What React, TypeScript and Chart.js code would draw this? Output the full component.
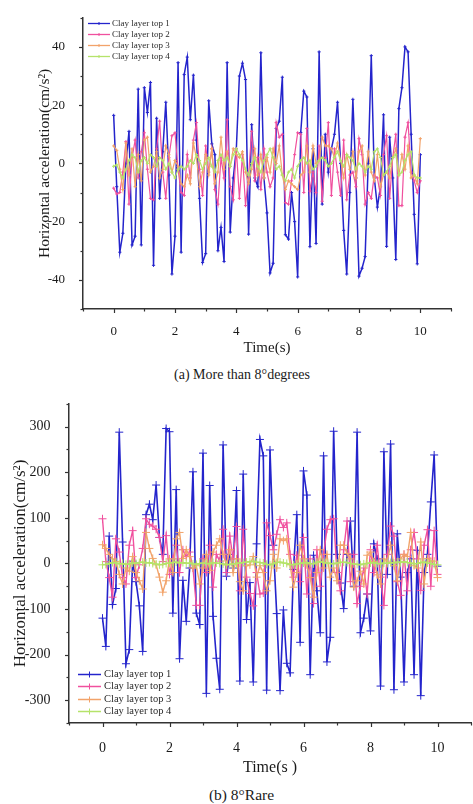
import React, { useEffect, useRef } from "react";
import { Chart, registerables } from "chart.js";

Chart.register(...registerables);

const FONT = "'Liberation Serif', 'Times New Roman', Times, serif";

// Sampling times (s): 0.0 … 10.0 every 0.1 s
const TIME: number[] = Array.from({ length: 101 }, (_, i) => i / 10);

const SERIES_NAMES = ["Clay layer top 1", "Clay layer top 2", "Clay layer top 3", "Clay layer top 4"];
const COLORS = ["#2424cc", "#f0509e", "#f2a36a", "#b5e36a"];

const X_TICK_LABELS = [0, 2, 4, 6, 8, 10];
const TOP_Y_TICK_LABELS = [-40, -20, 0, 20, 40];
const BOTTOM_Y_TICK_LABELS = [-300, -200, -100, 0, 100, 200, 300];

// (a) More than 8° degrees
const TOP_1 = [
  16.5, -8, -30.5, -24, 0, 11, -28, -25, 25.5, -28,
  26, 17.5, 27.8, -35, 15.5, -12, 4, 21, -4, -38,
  -25, 34.6, -30.5, 30.5, 36.5, 15, 30.3, 8, -12, -34,
  -31, 21.5, 6.7, 3, -30, -22, -33.7, 34.6, -23.6, -5,
  5, 30, 34.4, 28.8, -24.3, 13.3, -5, -8, 38, -5,
  -17, -37.6, -34.3, 12, 14.5, 29.6, -24.5, -26, -10, -20,
  -39, 10.6, 24.8, 22.8, -28.6, 5, -27.5, 38.3, -14, 10,
  -3, 5, 10, 21, 0, -23, -38, -10, 22, -5,
  -38.7, -36, -32, 0, 37, -5, -15, -8, 16.7, -28.5,
  9, -5, -33, 18.8, 26, 40, 38.3, 10, -17.5, -34.5,
  3,
];
const TOP_2 = [
  -8.5, -10.5, -10, -3, 7.5, -14, 2, 8, -5, 4,
  10.5, -2, -12, -12.5, 5, 14.5, -3, -12, 2, 9.5,
  10.5, -2, -10, -11, 3, -5, 8, 14, -2, -11,
  6, -3, 5, -9, -14, 2, -5, 15, -8, -12.5,
  5, -12, 3, -14.5, -4, 11, -6, 2, -9, 5,
  -3, -8, -5, 14, 9, 10, -13.5, -14, -6, 3,
  10.5, 10, -10, 12, -9.5, -3, -10, 6, -13, 2,
  14, -11, 5, -3, -11, 8, -12.5, -4, -3, -8,
  8.5, 3, -14, -10, -12, -4, -5, -11, 3, 9.5,
  -12, 2, 10, -14.5, -14.5, 9, 14, -3, -6, -10,
  -6,
];
const TOP_3 = [
  6, 4.5, -2, -9, 7, -4, 5, -8, 3, -6,
  8, 9, -3, -1, 4, -5, -2, 6, 3, -3,
  1, -1, -7, -8, -4, -7, 7, 2, -8, -3,
  3, -4, 5, -7, -3, 9, -2, 4, -1, 5,
  3, 2, 4, -3, -7, -2, 5, -4, 3, -5,
  2, -3, 5, 0, 6, -4, -9, -6, -7, -8,
  -9, -4, -3, 6, -3, 6, 0, 1, 9, 6,
  6, 5, 2, 7, 1, -5, 3, -2, 4, -5,
  4, 6, -4, 4, -3, -6, 3, -8, -4, -3,
  -5, 2, 5, -4, 3, -2, 6, -5, -4, -7,
  8.5,
];
const TOP_4 = [
  -1, -0.5, -3, -5, -2, 1, 3, 2, -3, 1,
  2, 0, 3, 2, -1, 2, 1, -2, 0, -3,
  -5, -2, -1, -2, -1, 1, 0, 3, 1, -2,
  0, 2, -1, -3, 1, 3, 1, 2, -1, 3,
  5, 3, 1, -2, -4, 0, 2, -1, -3, 1,
  3, 5, 2, -2, -1, -4, -6, -3, -2, -5,
  -1, 1, 2, 0, 1, -2, -1, 1, 2, 1,
  -1, 0, 2, 4, 1, -1, 3, 2, 1, -2,
  0, -1, -3, -1, -2, 4, 5, 2, -4, -3,
  -1, 2, 3, -4, -3, 1, 3, 4, -4, -5,
  -5,
];

// (b) 8° Rare
const BOTTOM_1 = [
  -120, -182, 60, -90, -55, 288, 47, -220, -189, 5,
  -40, -93, -193, 107, 130, 96, 172, 57, 20, 296,
  289, -109, 162, -209, -37, -127, -10, 201, -109, -134,
  242, -285, 171, -116, -208, -276, 260, -28, 20, -10,
  160, -258, 196, -123, -42, -260, 43, 272, 236, -278,
  249, 40, -110, -279, -102, -219, -240, -13, 107, -173,
  203, 150, -244, 18, -60, -152, 236, -216, -162, 290,
  20, -43, -99, 20, 93, -50, 288, -152, -120, -67,
  -148, 43, 10, -269, 245, -24, 262, -277, 65, -30,
  -260, -20, 10, -244, 29, -290, -20, 20, 135, 238,
  -6,
];
const BOTTOM_2 = [
  98, 4, -31, -74, 54, 25, -31, -45, 40, 72,
  -31, -3, 33, 98, 86, 82, 75, 57, 4, 61,
  -24, 10, 40, -20, 30, 15, 25, -10, -92, -92,
  10, -20, 40, -52, 20, 5, 75, -20, 60, 10,
  81, -60, 75, -30, -66, -93, -20, -67, -65, 89,
  61, 30, 64, 96, 79, 89, 20, -30, 18, -40,
  57, -67, 10, -88, 30, -50, 20, 75, 96, 98,
  -20, -60, 30, 93, -40, 20, -88, -50, -10, -67,
  30, -20, 40, -30, -92, 20, 82, 60, -40, -70,
  20, -60, 30, 68, 10, -59, 40, 74, -50, 72,
  -24,
];
const BOTTOM_3 = [
  41, 33, 20, 10, 4, -24, -45, -10, -17, 15,
  -20, -38, -56, 68, 33, 11, -3, -30, -63, -38,
  10, -20, 54, 68, 11, 30, 15, -10, -5, -45,
  -10, 20, -15, 25, 40, 54, 20, -3, 30, -20,
  10, -40, -60, -5, -3, 15, -30, -5, -20, -60,
  -38, 20, -10, 54, 50, 54, -3, -52, -20, 40,
  10, -3, -31, -74, -20, 30, -10, 20, -30, -10,
  -38, 40, 40, 22, 10, -52, -38, -17, -45, 18,
  25, 4, -25, -45, 10, 5, 40, -5, -38, 10,
  20, 15, 68, -5, -10, 47, -45, 11, 5, 5,
  -31,
];
const BOTTOM_4 = [
  -3, -2, 0, 2, 1, -1, 0, -2, -1, 1,
  0, 2, 3, 1, 2, 0, -1, -3, -2, 0,
  1, 2, 3, 1, 2, 0, 1, -1, -2, 0,
  1, 0, -1, 2, 1, 0, -1, -3, -2, -1,
  0, 1, 2, 3, 4, 5, 3, 2, 1, -2,
  -3, -1, 2, 3, 1, 0, -2, -3, -1, 0,
  1, 2, 0, -1, 3, 4, 2, 1, 0, -1,
  1, 2, 3, 2, 0, -1, -2, -3, -1, 0,
  1, 2, 0, -1, 1, 0, 2, 1, 3, 2,
  4, 2, 1, -1, 0, 2, 3, 1, 0, -2,
  -3,
];

const axisTicksPlugin = {
  id: "axisTicks",
  afterDraw(chart: any, _args: any, o: any) {
    const ctx = chart.ctx;
    const xs = chart.scales.x;
    const ys = chart.scales.y;
    ctx.save();
    ctx.strokeStyle = o.color;
    ctx.lineWidth = o.width;
    xs.ticks.forEach((t: any) => {
      const px = Math.round(xs.getPixelForValue(t.value)) + 0.5;
      const len = o.xMajor.includes(t.value) ? o.major : o.minor;
      ctx.beginPath();
      ctx.moveTo(px, xs.top);
      ctx.lineTo(px, xs.top + len);
      ctx.stroke();
    });
    ys.ticks.forEach((t: any) => {
      const py = Math.round(ys.getPixelForValue(t.value)) + 0.5;
      const len = o.yMajor.includes(t.value) ? o.major : o.minor;
      ctx.beginPath();
      ctx.moveTo(ys.right, py);
      ctx.lineTo(ys.right - len, py);
      ctx.stroke();
    });
    ctx.restore();
  },
};

const innerLegendPlugin = {
  id: "innerLegend",
  afterDraw(chart: any, _args: any, o: any) {
    const ctx = chart.ctx;
    ctx.save();
    ctx.font = `${o.fontSize}px ${FONT}`;
    ctx.textBaseline = "middle";
    chart.data.datasets.forEach((ds: any, k: number) => {
      const y = Math.round(o.y + k * o.gap) + 0.5;
      ctx.strokeStyle = ds.borderColor;
      ctx.lineWidth = o.lineWidth;
      ctx.beginPath();
      ctx.moveTo(o.x, y);
      ctx.lineTo(o.x + o.len, y);
      ctx.stroke();
      const mx = o.x + o.len / 2;
      ctx.lineWidth = 1;
      ctx.beginPath();
      ctx.moveTo(mx, y - o.mark);
      ctx.lineTo(mx, y + o.mark);
      ctx.stroke();
      ctx.fillStyle = "#2a2a2a";
      ctx.fillText(ds.label, o.x + o.len + o.textGap, y);
    });
    ctx.restore();
  },
};

type PanelSpec = {
  series: number[][];
  width: number;
  height: number;
  area: { left: number; right: number; top: number; bottom: number };
  yMin: number;
  yMax: number;
  yStep: number;
  yLabels: number[];
  tickFont: number;
  xTickPad: number;
  yTickPad: number;
  xTitle: string;
  xTitleFont: number;
  xTitlePad: number;
  yTitleFont: number;
  yTitlePad: number;
  lineWidths: number[];
  pointRadius: number;
  legend: any;
};

function buildConfig(p: PanelSpec): any {
  return {
    type: "line",
    data: {
      datasets: SERIES_NAMES.map((name, k) => ({
        label: name,
        data: TIME.map((t, i) => ({ x: t, y: p.series[k][i] })),
        borderColor: COLORS[k],
        backgroundColor: COLORS[k],
        borderWidth: p.lineWidths[k],
        pointStyle: "cross",
        pointRadius: p.pointRadius,
        pointBorderWidth: 1,
        pointBorderColor: COLORS[k],
        tension: 0,
        order: 4 - k,
      })),
    },
    options: {
      responsive: false,
      animation: false,
      events: [],
      layout: { padding: { left: 0, top: p.area.top, right: p.width - p.area.right, bottom: 0 } },
      scales: {
        x: {
          type: "linear",
          min: -1,
          max: 11,
          afterFit: (s: any) => {
            s.height = p.height - p.area.bottom;
          },
          ticks: {
            stepSize: 1,
            autoSkip: false,
            maxRotation: 0,
            padding: p.xTickPad,
            color: "#1a1a1a",
            font: { family: FONT, size: p.tickFont },
            callback: (v: any) => (X_TICK_LABELS.includes(Math.round(v * 1000) / 1000) ? String(v) : ""),
          },
          grid: { display: false },
          border: { display: true, color: "#333", width: 1.5 },
          title: {
            display: true,
            text: p.xTitle,
            color: "#1a1a1a",
            font: { family: FONT, size: p.xTitleFont, lineHeight: 1.2 },
            padding: { top: 0, bottom: p.xTitlePad },
          },
        },
        y: {
          type: "linear",
          min: p.yMin,
          max: p.yMax,
          afterFit: (s: any) => {
            s.width = p.area.left;
          },
          ticks: {
            stepSize: p.yStep,
            autoSkip: false,
            padding: p.yTickPad,
            color: "#1a1a1a",
            font: { family: FONT, size: p.tickFont },
            callback: (v: any) => (p.yLabels.includes(Math.round(v)) ? String(v) : ""),
          },
          grid: { display: false },
          border: { display: true, color: "#333", width: 1.5 },
          title: {
            display: true,
            text: "Horizontal acceleration(cm/s²)",
            color: "#1a1a1a",
            font: { family: FONT, size: p.yTitleFont, lineHeight: 1.2 },
            padding: { top: p.yTitlePad, bottom: 0 },
          },
        },
      },
      plugins: {
        legend: { display: false },
        tooltip: { enabled: false },
        axisTicks: {
          color: "#333",
          width: 1.2,
          major: 4,
          minor: 2.5,
          xMajor: X_TICK_LABELS,
          yMajor: p.yLabels,
        },
        innerLegend: p.legend,
      },
    },
    plugins: [axisTicksPlugin, innerLegendPlugin],
  };
}

function Panel({ spec, top }: { spec: PanelSpec; top: number }) {
  const ref = useRef<HTMLCanvasElement | null>(null);
  useEffect(() => {
    if (!ref.current) return;
    const chart = new Chart(ref.current, buildConfig(spec));
    return () => chart.destroy();
  }, [spec]);
  return (
    <canvas
      ref={ref}
      width={spec.width}
      height={spec.height}
      style={{ position: "absolute", left: 0, top, width: spec.width, height: spec.height, display: "block" }}
    />
  );
}

const TOP_SPEC: PanelSpec = {
  series: [TOP_1, TOP_2, TOP_3, TOP_4],
  width: 473,
  height: 362,
  area: { left: 83, right: 451, top: 11, bottom: 309 },
  yMin: -50,
  yMax: 50,
  yStep: 10,
  yLabels: TOP_Y_TICK_LABELS,
  tickFont: 13,
  xTickPad: 7,
  yTickPad: 10,
  xTitle: "Time(s)",
  xTitleFont: 15,
  xTitlePad: 5,
  yTitleFont: 15.5,
  yTitlePad: 36,
  lineWidths: [1.5, 1.2, 1.2, 1.2],
  pointRadius: 1.6,
  legend: { x: 88, y: 22.5, gap: 11.3, len: 22, textGap: 2, fontSize: 9, lineWidth: 1.3, mark: 1.5 },
};

const BOTTOM_SPEC: PanelSpec = {
  series: [BOTTOM_1, BOTTOM_2, BOTTOM_3, BOTTOM_4],
  width: 480,
  height: 395,
  area: { left: 69, right: 477, top: 9, bottom: 338 },
  yMin: -350,
  yMax: 350,
  yStep: 50,
  yLabels: BOTTOM_Y_TICK_LABELS,
  tickFont: 14,
  xTickPad: 9,
  yTickPad: 10.5,
  xTitle: "Time(s )",
  xTitleFont: 16,
  xTitlePad: 3,
  yTitleFont: 17,
  yTitlePad: 10,
  lineWidths: [1.6, 1.4, 1.4, 1.4],
  pointRadius: 4,
  legend: { x: 78, y: 289, gap: 12.4, len: 23, textGap: 3, fontSize: 10.5, lineWidth: 1.5, mark: 3 },
};

export default function App() {
  return (
    <div
      style={{
        position: "absolute",
        left: 0,
        top: 0,
        width: 473,
        height: 804,
        overflow: "hidden",
        background: "#fff",
        fontFamily: FONT,
        color: "#1a1a1a",
      }}
    >
      <Panel spec={TOP_SPEC} top={0} />
      <div
        style={{
          position: "absolute",
          left: 242,
          top: 366,
          transform: "translateX(-50%)",
          whiteSpace: "nowrap",
          fontSize: 14,
          lineHeight: "18px",
        }}
      >
        (a) More than 8°degrees
      </div>
      <Panel spec={BOTTOM_SPEC} top={385} />
      <div
        style={{
          position: "absolute",
          left: 241.5,
          top: 785,
          transform: "translateX(-50%)",
          whiteSpace: "nowrap",
          fontSize: 15.5,
          lineHeight: "20px",
        }}
      >
        (b) 8°Rare
      </div>
    </div>
  );
}
